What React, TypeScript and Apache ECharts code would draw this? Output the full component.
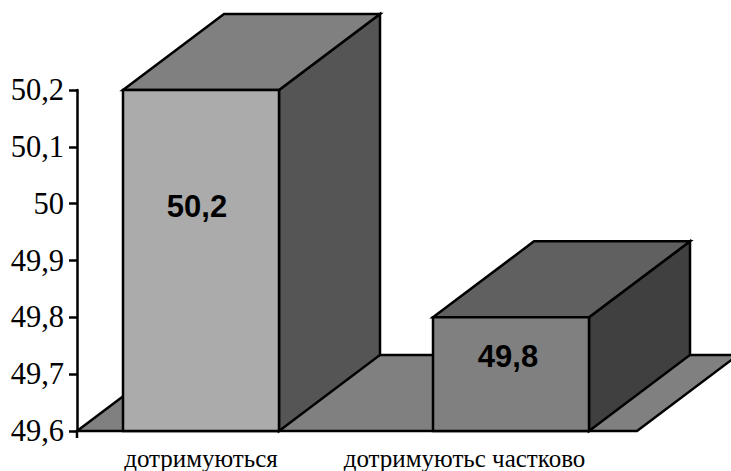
import React, { useEffect, useRef } from "react";
import * as echarts from "echarts";

const categories = ["дотримуються", "дотримуютьс частково"];
const values = [50.2, 49.8];
const valueTicks = ["49,6", "49,7", "49,8", "49,9", "50", "50,1", "50,2"];

const AXIS_MIN = 49.6;
const AXIS_MAX = 50.2;

// Projection of the depth axis on screen, and the half width of a box front.
const DEPTH_X = 101;
const DEPTH_Y = -76;
const HALF_WIDTH = 78;

const FRONT_COLORS = ["#ababab", "#808080"];
const TOP_COLORS = ["#808080", "#606060"];
const SIDE_COLORS = ["#555555", "#404040"];
const VALUE_LABEL_SHIFT = [
  [-4, -54],
  [-3, -18],
];
const EDGE = { stroke: "#000", lineWidth: 2.5, lineJoin: "miter" as const };

function renderFloor(params: any, api: any) {
  const [, y] = api.coord([0, AXIS_MIN]);
  const left = params.coordSys.x + 31;
  const right = params.coordSys.x + 591;
  return {
    type: "group",
    children: [
      {
        type: "polygon",
        shape: {
          points: [
            [left, y],
            [right, y],
            [right + DEPTH_X, y + DEPTH_Y],
            [left + DEPTH_X, y + DEPTH_Y],
          ],
        },
        style: { fill: "#808080", ...EDGE },
      },
      {
        type: "line",
        shape: { x1: left, y1: y, x2: left, y2: y + 7 },
        style: { stroke: "#000", lineWidth: 2.5 },
      },
    ],
  };
}

function renderBox(_params: any, api: any) {
  const i = api.value(0);
  const [cx, top] = api.coord([i, api.value(1)]);
  const [, base] = api.coord([i, AXIS_MIN]);
  const l = cx - HALF_WIDTH;
  const r = cx + HALF_WIDTH;
  const [sx, sy] = VALUE_LABEL_SHIFT[i];
  return {
    type: "group",
    children: [
      {
        type: "polygon",
        shape: {
          points: [
            [r, base],
            [r + DEPTH_X, base + DEPTH_Y],
            [r + DEPTH_X, top + DEPTH_Y],
            [r, top],
          ],
        },
        style: { fill: SIDE_COLORS[i], ...EDGE },
      },
      {
        type: "polygon",
        shape: {
          points: [
            [l, top],
            [r, top],
            [r + DEPTH_X, top + DEPTH_Y],
            [l + DEPTH_X, top + DEPTH_Y],
          ],
        },
        style: { fill: TOP_COLORS[i], ...EDGE },
      },
      {
        type: "rect",
        shape: { x: l, y: top, width: r - l, height: base - top },
        style: { fill: FRONT_COLORS[i], ...EDGE },
      },
      {
        type: "text",
        x: cx + sx,
        y: (top + base) / 2 + sy,
        style: {
          text: String(api.value(1)).replace(".", ","),
          fill: "#000",
          font: 'bold 31px "Liberation Sans", Arial, sans-serif',
          textAlign: "center",
          textVerticalAlign: "middle",
        },
      },
    ],
  };
}

export default function App() {
  const ref = useRef<HTMLDivElement>(null);

  useEffect(() => {
    document.body.style.margin = "0";
    const chart = echarts.init(ref.current!, undefined, { renderer: "svg" });
    chart.setOption({
      animation: false,
      backgroundColor: "#fff",
      grid: { left: 46, top: 90, width: 620, height: 341, outerBoundsMode: "none" },
      xAxis: {
        type: "category",
        data: [
          { value: categories[0] },
          { value: categories[1], textStyle: { padding: [0, 93, 0, 0] } },
        ],
        axisLine: { show: false },
        axisTick: { show: false },
        axisLabel: {
          interval: 0,
          margin: 14.5,
          fontFamily: '"Liberation Serif", "Times New Roman", serif',
          fontSize: 25,
          color: "#000",
        },
      },
      yAxis: {
        type: "value",
        min: AXIS_MIN,
        max: AXIS_MAX,
        interval: 0.1,
        offset: -31,
        splitLine: { show: false },
        axisLine: { show: true, lineStyle: { color: "#000", width: 2.5 } },
        axisTick: { show: true, length: 8, lineStyle: { color: "#000", width: 2.5 } },
        axisLabel: {
          margin: 13,
          fontFamily: '"Liberation Serif", "Times New Roman", serif',
          fontSize: 30.5,
          color: "#000",
          formatter: (_v: number, idx: number) => valueTicks[idx],
        },
      },
      series: [
        {
          type: "custom",
          renderItem: renderFloor,
          data: [[0, AXIS_MIN]],
          z: 1,
          silent: true,
          clip: false,
        },
        {
          type: "custom",
          renderItem: renderBox,
          data: values.map((v, i) => [i, v]),
          z: 3,
          silent: true,
          clip: false,
        },
      ],
    });
    return () => chart.dispose();
  }, []);

  return <div ref={ref} style={{ width: 731, height: 471 }} />;
}
